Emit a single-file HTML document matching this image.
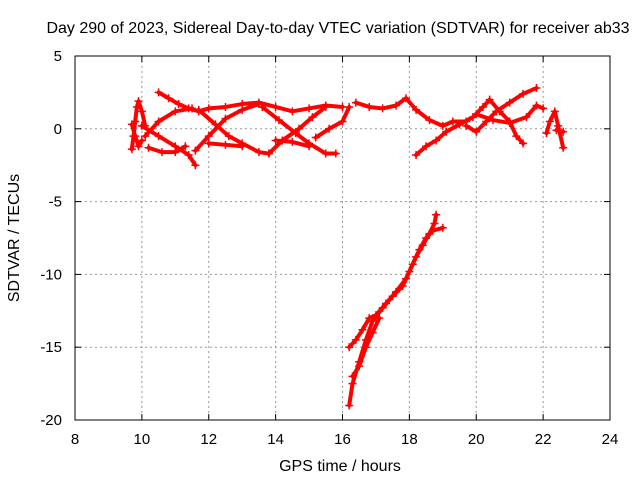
<!DOCTYPE html>
<html><head><meta charset="utf-8"><style>
body{margin:0;background:#fff;}
svg{display:block;font-family:"Liberation Sans",sans-serif;}
</style></head><body>
<svg id="chart" width="640" height="480" viewBox="0 0 640 480">
<rect width="640" height="480" fill="#fff"/>
<text x="338" y="33" font-size="16" text-anchor="middle">Day 290 of 2023, Sidereal Day-to-day VTEC variation (SDTVAR) for receiver ab33</text>
<g id="grid"></g>
<g id="axes"></g>
<g id="marks"></g>
<text x="340" y="471" font-size="16" text-anchor="middle">GPS time / hours</text>
<text transform="translate(19,238) rotate(-90)" font-size="16" text-anchor="middle">SDTVAR / TECUs</text>
</svg>
<script>
const xTicks=[8,10,12,14,16,18,20,22,24];
const yTicks=[5,0,-5,-10,-15,-20];
const tracks=[
[[9.7,-1.4],[9.75,-0.5],[9.8,0.5],[9.85,1.5],[9.9,1.9],[10.0,1.2],[10.1,0.2]],
[[9.7,0.3],[9.8,-0.5],[9.9,-1.2],[10.0,-0.8]],
[[10.5,2.5],[10.8,2.1],[11.1,1.7],[11.4,1.4],[11.7,1.2],[12.0,1.4],[12.5,1.5],[13.0,1.7],[13.5,1.8],[14.0,1.5],[14.5,1.2],[15.0,1.4],[15.5,1.6],[16.0,1.5]],
[[10.0,0.2],[10.5,-0.5],[11.0,-1.2],[11.4,-1.8],[11.6,-2.5]],
[[10.1,-0.5],[10.5,0.5],[11.0,1.2],[11.5,1.4]],
[[10.2,-1.3],[10.6,-1.6],[11.0,-1.6],[11.3,-1.2]],
[[11.6,-1.5],[12.0,-0.5],[12.5,0.7],[13.0,1.3],[13.5,1.7]],
[[11.7,1.3],[12.2,0.3],[12.6,-0.5],[13.0,-1.0],[13.5,-1.6],[13.8,-1.7]],
[[12.0,-1.0],[12.5,-1.1],[13.0,-1.2]],
[[13.8,-1.7],[14.2,-0.8],[14.7,0],[15.1,0.8],[15.5,1.5]],
[[13.6,1.5],[14.1,0.6],[14.6,-0.3],[15.0,-1.0],[15.5,-1.7],[15.8,-1.7]],
[[14.0,-0.8],[14.5,-0.9],[15.0,-1.2]],
[[15.2,-0.6],[15.6,0],[16.0,0.5],[16.2,1.5]],
[[16.4,1.8],[16.8,1.5],[17.2,1.4],[17.6,1.6],[17.9,2.1],[18.2,1.3],[18.6,0.6],[19.0,0.2],[19.3,0.5],[19.7,0.5]],
[[18.2,-1.8],[18.5,-1.2],[18.8,-0.8],[19.1,-0.2],[19.5,0.3],[19.9,0.8],[20.2,1.5],[20.4,2.0],[20.7,1.2],[21.0,0.5],[21.2,-0.5],[21.4,-1.0]],
[[19.7,0.2],[20.0,-0.2],[20.3,0.5],[20.6,1.2],[21.0,1.8],[21.4,2.4],[21.8,2.8]],
[[20.0,1.0],[20.5,0.6],[21.0,0.4],[21.5,0.8],[21.8,1.6],[22.0,1.4]],
[[22.1,-0.3],[22.2,0.5],[22.35,1.2],[22.45,0.2],[22.6,-1.3]],
[[22.4,-0.1],[22.6,-0.2]],
[[16.2,-19],[16.3,-17.5],[16.5,-16],[16.7,-14.5],[16.9,-13.2],[17.2,-12.3],[17.5,-11.5],[17.8,-10.8],[18.0,-9.8],[18.2,-8.8],[18.4,-8],[18.6,-7.2],[18.75,-6.5],[18.8,-5.9]],
[[16.2,-15],[16.4,-14.5],[16.6,-13.8],[16.8,-13],[17.0,-12.8],[17.3,-12],[17.6,-11.2],[17.9,-10.3],[18.1,-9.3],[18.3,-8.3],[18.5,-7.5],[18.7,-7],[19.0,-6.8]],
[[16.3,-17],[16.5,-16.3],[16.7,-15],[16.9,-14],[17.1,-13]]
];
const NS='http://www.w3.org/2000/svg';
const X0=75,X1=610,Y0=56,Y1=420;
const sx=t=>X0+(t-8)/16*(X1-X0);
const sy=v=>Y0+(5-v)/25*(Y1-Y0);
function mk(tag,attrs,parent){const e=document.createElementNS(NS,tag);for(const k in attrs)e.setAttribute(k,attrs[k]);parent.appendChild(e);return e;}
const grid=document.getElementById('grid'),axes=document.getElementById('axes'),marks=document.getElementById('marks');
xTicks.forEach(t=>{const x=sx(t);
 if(t>8&&t<24){const g=mk('line',{x1:x,x2:x,y1:Y0,y2:Y1,stroke:'#999','stroke-dasharray':'2,3','stroke-width':1},grid);}
 mk('line',{x1:x,x2:x,y1:Y1,y2:Y1-6,stroke:'#000'},axes);mk('line',{x1:x,x2:x,y1:Y0,y2:Y0+6,stroke:'#000'},axes);
 const l=mk('text',{x:x,y:Y1+24,'font-size':15,'text-anchor':'middle'},axes);l.textContent=t;
 });
yTicks.forEach(v=>{const y=sy(v);
 if(v>-20&&v<5){const g=mk('line',{x1:X0,x2:X1,y1:y,y2:y,stroke:'#999','stroke-dasharray':'2,3','stroke-width':1},grid);}
 mk('line',{x1:X0,x2:X0+6,y1:y,y2:y,stroke:'#000'},axes);mk('line',{x1:X1,x2:X1-6,y1:y,y2:y,stroke:'#000'},axes);
 const l=mk('text',{x:X0-13,y:y+5,'font-size':15,'text-anchor':'end'},axes);l.textContent=v;
 });
const frame=mk('rect',{x:X0,y:Y0,width:X1-X0,height:Y1-Y0,fill:'none',stroke:'#000'},axes);

tracks.forEach(tr=>{
 const p=mk('polyline',{points:tr.map(d=>sx(d[0])+','+sy(d[1])).join(' '),fill:'none',stroke:'#f00','stroke-width':4,'stroke-linejoin':'round','stroke-linecap':'round'},marks);
 
 tr.forEach(d=>{const x=sx(d[0]),y=sy(d[1]);
  const m=mk('path',{d:`M${x-4},${y}H${x+4}M${x},${y-4}V${y+4}`,stroke:'#f00','stroke-width':1.5},marks);
  });
});
</script>
</body></html>
